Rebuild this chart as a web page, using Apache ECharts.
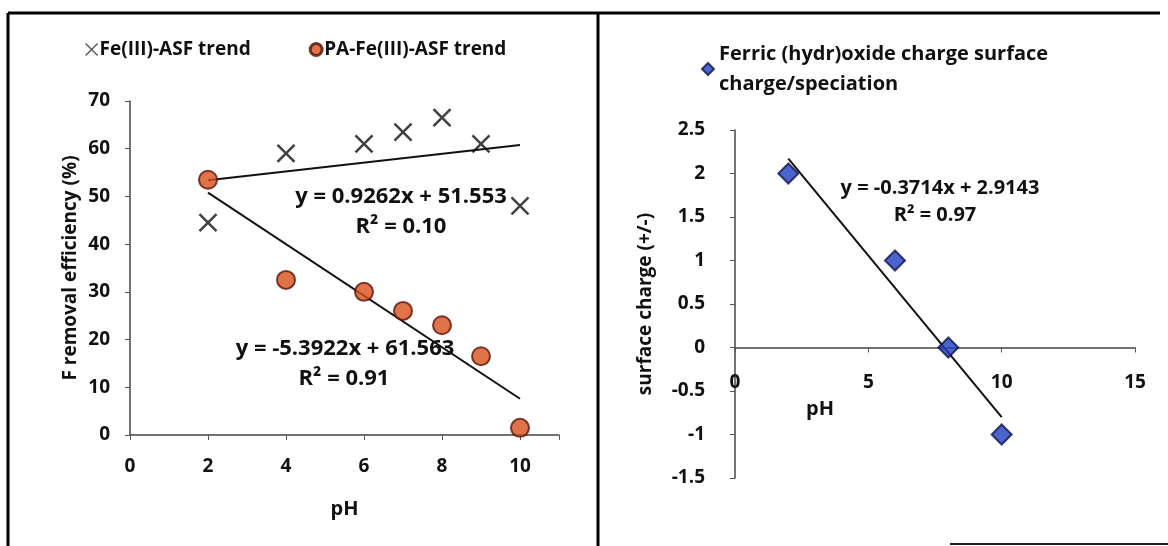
<!DOCTYPE html>
<html>
<head>
<meta charset="utf-8">
<script src="https://cdn.jsdelivr.net/npm/echarts@6/dist/echarts.min.js"></script>
<style>
  html, body { margin: 0; padding: 0; background: #fff; }
  #chart { width: 1168px; height: 546px; }
</style>
</head>
<body>
<div id="chart"></div>
<script>
// left panel: F removal vs pH
const phFe = [2, 4, 6, 7, 8, 9, 10]
const removalFe = [44.5, 59, 61, 63.5, 66.5, 61, 48]
const phPa = [2, 4, 6, 7, 8, 9, 10]
const removalPa = [53.5, 32.5, 30, 26, 23, 16.5, 1.5]
// trend line end points
const trendFe = [[2, 53.4], [10, 60.8]]
const trendPa = [[2, 50.8], [10, 7.6]]

// right panel: surface charge vs pH
const phCharge = [2, 6, 8, 10]
const surfaceCharge = [2, 1, 0, -1]
const trendCharge = [[2, 2.17], [10, -0.80]]

const leftXTicks = [0, 2, 4, 6, 8, 10]

const FONT = 'Open Sans'
const TXT = '#111'

function pares(xs, ys) {
  return xs.map((x, i) => [x, ys[i]])
}

const crossPath = 'path://M0,0L10,10M10,0L0,10'

const baseAxis = {
  axisLine: { lineStyle: { color: '#444', width: 1.5 } },
  axisTick: { show: true, length: 5, lineStyle: { color: '#555' } },
  splitLine: { show: false },
  axisLabel: { color: TXT, fontFamily: FONT, fontWeight: 'bold', fontSize: 19 },
}

const grafico = echarts.init(document.getElementById('chart'))

function texto(x, y, t, size) {
  return {
    type: 'text', x, y,
    style: { text: t, fill: TXT, font: `bold ${size}px "Open Sans"`, align: 'center', verticalAlign: 'middle' },
  }
}

grafico.setOption({
  backgroundColor: '#fff',
  animation: false,
  textStyle: { fontFamily: FONT },
  grid: [
    { left: 130, top: 101, width: 429, height: 334 },
    { left: 735, top: 130, width: 400, height: 348 },
  ],
  legend: [
    {
      left: 80, top: 35,
      itemGap: 58, itemWidth: 12, itemHeight: 12,
      data: [
        { name: 'Fe(III)-ASF trend', icon: crossPath, itemStyle: { color: 'transparent', borderColor: '#222', borderWidth: 1.2 } },
        { name: 'PA-Fe(III)-ASF trend', icon: 'circle', itemStyle: { color: '#d9501c', borderColor: '#4a0e06', borderWidth: 3 } },
      ],
      textStyle: { color: TXT, fontFamily: FONT, fontWeight: 'bold', fontSize: 19, padding: [0, 0, 0, -3] },
    },
    {
      left: 696, top: 34,
      itemWidth: 12, itemHeight: 12,
      data: [{ name: 'Ferric (hydr)oxide charge surface\ncharge/speciation', icon: 'diamond' }],
      textStyle: { color: TXT, fontFamily: FONT, fontWeight: 'bold', fontSize: 20, lineHeight: 30 },
    },
  ],
  xAxis: [
    {
      ...baseAxis,
      gridIndex: 0, type: 'value', min: 0, max: 11, interval: 2,
      axisLabel: {
        ...baseAxis.axisLabel, margin: 22,
        formatter: v => (leftXTicks.includes(v) ? String(v) : ''),
      },
      name: 'pH', nameLocation: 'middle', nameGap: 64,
      nameTextStyle: { color: TXT, fontFamily: FONT, fontWeight: 'bold', fontSize: 20 },
    },
    {
      ...baseAxis,
      gridIndex: 1, type: 'value', min: 0, max: 15, interval: 5,
      axisLine: { ...baseAxis.axisLine, onZero: false },
      offset: -130.5,
      axisLabel: { ...baseAxis.axisLabel, margin: 26 },
    },
  ],
  yAxis: [
    {
      ...baseAxis,
      gridIndex: 0, type: 'value', min: 0, max: 70, interval: 10,
      axisLabel: { ...baseAxis.axisLabel, margin: 20 },
      name: 'F removal efficiency (%)', nameLocation: 'middle', nameGap: 50,
      nameTextStyle: { color: TXT, fontFamily: FONT, fontWeight: 'bold', fontSize: 19 },
    },
    {
      ...baseAxis,
      gridIndex: 1, type: 'value', min: -1.5, max: 2.5, interval: 0.5,
      axisLabel: { ...baseAxis.axisLabel, margin: 30 },
      name: 'surface charge (+/-)', nameLocation: 'middle', nameGap: 80,
      nameTextStyle: { color: TXT, fontFamily: FONT, fontWeight: 'bold', fontSize: 19 },
    },
  ],
  series: [
    {
      name: 'Fe(III)-ASF trend fit', type: 'line', xAxisIndex: 0, yAxisIndex: 0,
      data: trendFe, symbol: 'none', lineStyle: { color: '#111', width: 2 }, z: 2,
    },
    {
      name: 'PA-Fe(III)-ASF trend fit', type: 'line', xAxisIndex: 0, yAxisIndex: 0,
      data: trendPa, symbol: 'none', lineStyle: { color: '#111', width: 2 }, z: 2,
    },
    {
      name: 'Fe(III)-ASF trend', type: 'scatter', xAxisIndex: 0, yAxisIndex: 0,
      data: pares(phFe, removalFe), symbol: crossPath, symbolSize: 17,
      itemStyle: { color: 'transparent', borderColor: '#111', borderWidth: 2.5 }, z: 3,
    },
    {
      name: 'PA-Fe(III)-ASF trend', type: 'scatter', xAxisIndex: 0, yAxisIndex: 0,
      data: pares(phPa, removalPa), symbol: 'circle', symbolSize: 18,
      itemStyle: { color: '#d9501c', borderColor: '#5a130a', borderWidth: 2 }, z: 4,
    },
    {
      name: 'charge fit', type: 'line', xAxisIndex: 1, yAxisIndex: 1,
      data: trendCharge, symbol: 'none', lineStyle: { color: '#111', width: 2 }, z: 2,
    },
    {
      name: 'Ferric (hydr)oxide charge surface\ncharge/speciation', type: 'scatter',
      xAxisIndex: 1, yAxisIndex: 1,
      data: pares(phCharge, surfaceCharge), symbol: 'diamond', symbolSize: [20, 20],
      itemStyle: { color: '#1f3fc0', borderColor: '#10124a', borderWidth: 2 }, z: 4,
    },
  ],
  graphic: [
    // marco del recorte
    { type: 'line', shape: { x1: 8, y1: 13, x2: 1160, y2: 13 }, style: { stroke: '#000', lineWidth: 3 } },
    { type: 'line', shape: { x1: 8, y1: 13, x2: 8, y2: 546 }, style: { stroke: '#000', lineWidth: 3 } },
    { type: 'line', shape: { x1: 598, y1: 13, x2: 598, y2: 546 }, style: { stroke: '#000', lineWidth: 3 } },
    { type: 'line', shape: { x1: 950, y1: 544, x2: 1168, y2: 544 }, style: { stroke: '#222', lineWidth: 2 } },
    // ecuaciones
    texto(401, 197, 'y = 0.9262x + 51.553', 22),
    texto(401, 227, 'R² = 0.10', 22),
    texto(345, 349, 'y = -5.3922x + 61.563', 22),
    texto(344, 379, 'R² = 0.91', 22),
    texto(940, 188, 'y = -0.3714x + 2.9143', 20),
    texto(935, 215, 'R² = 0.97', 20),
    texto(820, 409, 'pH', 20),
  ],
})
</script>
</body>
</html>
